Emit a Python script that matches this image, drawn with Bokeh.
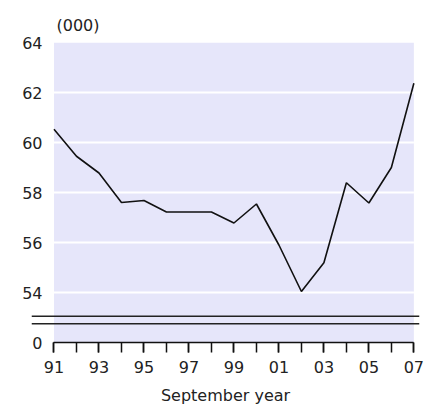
from bokeh.plotting import figure
from bokeh.models import FixedTicker, Span, Range1d
from bokeh.embed import file_html
from bokeh.resources import INLINE

# ---- data ----
years = list(range(1991, 2008))
values = [60.53, 59.45, 58.78, 57.60, 57.68, 57.22, 57.22, 57.22, 56.78,
          57.54, 55.90, 54.04, 55.19, 58.39, 57.58, 59.00, 62.37]
x_tick_years = [1991, 1993, 1995, 1997, 1999, 2001, 2003, 2005, 2007]
x_tick_labels = ["91", "93", "95", "97", "99", "01", "03", "05", "07"]
y_tick_values = [52, 54, 56, 58, 60, 62, 64]
y_tick_labels = ["0", "54", "56", "58", "60", "62", "64"]
grid_values = [54, 56, 58, 60, 62]
break_values = [53.05, 52.75]
unit_label = "(000)"
x_title = "September year"

FONT = "DejaVu Sans"
TXT = "#222222"
y_lo, y_hi = 52, 64

p = figure(width=435, height=408, output_backend="svg", toolbar_location=None,
           x_range=Range1d(1990.0, 2007.25), y_range=Range1d(y_lo, y_hi),
           min_border_left=31, min_border_right=16, min_border_top=42,
           min_border_bottom=66, title=unit_label)
p.outline_line_color = None
p.background_fill_color = "white"
p.border_fill_color = "white"
p.grid.visible = False

p.title.align = "left"
p.title.offset = 25
p.title.standoff = 15
p.title.text_font = FONT
p.title.text_font_size = "16px"
p.title.text_font_style = "normal"
p.title.text_color = TXT

# plot-area background
p.quad(left=[years[0]], right=[years[-1]], bottom=[y_lo], top=[y_hi],
       fill_color="#E6E6FA", line_color=None)
# white gridlines
p.segment(x0=[years[0]] * len(grid_values), y0=grid_values,
          x1=[years[-1]] * len(grid_values), y1=grid_values,
          line_color="white", line_width=2)
# data line
p.line(years, values, line_color="#111111", line_width=1.6)

# axis break marks
for b in break_values:
    p.add_layout(Span(location=b, dimension="width", line_color="#222222",
                      line_width=1.5))

# x axis
xa = p.xaxis[0]
xa.ticker = FixedTicker(ticks=x_tick_years, minor_ticks=years)
xa.major_label_overrides = dict(zip(x_tick_years, x_tick_labels))
xa.bounds = (years[0], years[-1])
xa.major_tick_out = 10
xa.major_tick_in = 0
xa.minor_tick_out = 10
xa.minor_tick_in = 0
xa.axis_line_color = "#111111"
xa.major_tick_line_color = "#111111"
xa.minor_tick_line_color = "#111111"
xa.axis_line_width = 1.5
xa.major_tick_line_width = 1.5
xa.minor_tick_line_width = 1.5
xa.major_label_text_font = FONT
xa.major_label_text_font_size = "16px"
xa.major_label_text_color = TXT
xa.major_label_standoff = 8
xa.axis_label = x_title
xa.axis_label_text_font = FONT
xa.axis_label_text_font_size = "16px"
xa.axis_label_text_font_style = "normal"
xa.axis_label_text_color = TXT
xa.axis_label_standoff = 10

# y axis
ya = p.yaxis[0]
ya.ticker = FixedTicker(ticks=y_tick_values)
ya.major_label_overrides = dict(zip(y_tick_values, y_tick_labels))
ya.axis_line_color = None
ya.major_tick_line_color = None
ya.minor_tick_line_color = None
ya.major_tick_out = 0
ya.major_tick_in = 0
ya.major_label_standoff = -11
ya.major_label_text_font = FONT
ya.major_label_text_font_size = "16px"
ya.major_label_text_color = TXT

open("out.html", "w").write(file_html(p, INLINE))
